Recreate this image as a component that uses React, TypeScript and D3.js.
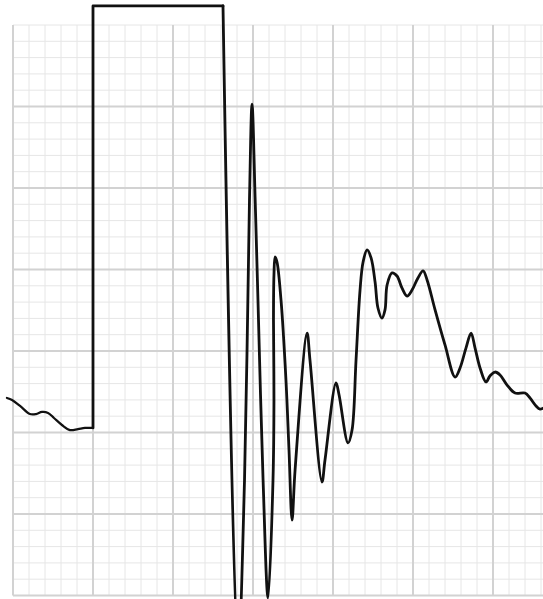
import React, { useRef, useEffect } from "react";
import * as d3 from "d3";

// Trace values, x in small squares (mm), y in mm above reference line
const baseline: [number, number][] = [
  [-0.38, 2.12], [-0.06, 1.99], [0.44, 1.63], [1.06, 1.13], [1.44, 1.13],
  [1.81, 1.26], [2.19, 1.2], [2.56, 0.89], [3.06, 0.46], [3.56, 0.15],
  [4.06, 0.21], [4.5, 0.28], [5.0, 0.28],
];

// calibration pulse
const pulse: [number, number][] = [
  [5.0, 0.28], [5.0, 26.17], [13.125, 26.17],
];

const response: [number, number][] = [
  [13.125, 26.17], [14.06, -13.65], [14.47, -2.91], [14.78, 14.26],
  [14.94, 20.15], [15.13, 14.45], [15.31, 8.13], [15.63, -2.91],
  [15.94, -10.15], [16.25, -2.91], [16.31, 1.99], [16.28, 6.9],
  [16.31, 9.66], [16.38, 10.77], [16.5, 10.46], [16.75, 8.13],
  [17.06, 3.22], [17.25, -1.07], [17.44, -5.37], [17.63, -2.3],
  [18.38, 6.1], [18.56, 4.45], [19.31, -3.04], [19.5, -1.69],
  [20.19, 3.04], [20.38, 2.3], [20.94, -0.64], [21.19, 0.15],
  [21.44, 4.45], [21.69, 8.74], [21.88, 10.46], [22.13, 11.2],
  [22.38, 10.71], [22.63, 9.23], [22.81, 7.64], [23.06, 7.02],
  [23.25, 7.52], [23.38, 9.05], [23.69, 9.79], [24.0, 9.6],
  [24.31, 8.87], [24.63, 8.37], [24.94, 8.74], [25.31, 9.48],
  [25.63, 9.91], [25.88, 9.36], [26.38, 7.52], [27.0, 5.37],
  [27.63, 3.4], [27.94, 3.96], [28.31, 5.18], [28.63, 6.1],
  [28.88, 5.18], [29.19, 3.96], [29.56, 3.1], [29.81, 3.47],
  [30.13, 3.71], [30.44, 3.53], [30.88, 2.91], [31.38, 2.42],
  [32.0, 2.42], [32.31, 2.12], [32.69, 1.63], [32.94, 1.44],
  [33.25, 1.56],
];

// grid extent in mm
const gridX: [number, number] = [0, 33.125];
const gridY: [number, number] = [-10, 25];

const EcgChart = ({ width = 543, height = 599 }) => {
  const d3Container = useRef<SVGSVGElement>(null);

  useEffect(() => {
    const container = d3Container.current;
    if (!container) return;
    d3.select(container).selectChildren().remove();

    const svg = d3.select(container);

    const x = d3.scaleLinear().domain(gridX).range([13, 543]);
    const y = d3.scaleLinear().domain(gridY).range([595.5, 25]);

    svg
      .append("rect")
      .attr("width", width)
      .attr("height", height)
      .attr("fill", "white");

    // Grid
    const grid = svg.append("g");
    const vx = d3.range(gridX[0], gridX[1] + 0.01, 1);
    const hy = d3.range(gridY[0], gridY[1] + 0.01, 1);

    const minorV = vx.filter((d) => d % 5 !== 0);
    const majorV = vx.filter((d) => d % 5 === 0);
    const minorH = hy.filter((d) => d % 5 !== 0 || d === gridY[1]);
    const majorH = hy.filter((d) => d % 5 === 0 && d !== gridY[1]);

    grid
      .selectAll("line.minv")
      .data(minorV)
      .enter()
      .append("line")
      .attr("x1", (d) => x(d))
      .attr("x2", (d) => x(d))
      .attr("y1", y(gridY[1]))
      .attr("y2", y(gridY[0]))
      .attr("stroke", "#e6e6e6")
      .attr("stroke-width", 1);

    grid
      .selectAll("line.minh")
      .data(minorH)
      .enter()
      .append("line")
      .attr("x1", x(gridX[0]))
      .attr("x2", width)
      .attr("y1", (d) => y(d))
      .attr("y2", (d) => y(d))
      .attr("stroke", "#e6e6e6")
      .attr("stroke-width", 1);

    grid
      .selectAll("line.majv")
      .data(majorV)
      .enter()
      .append("line")
      .attr("x1", (d) => x(d))
      .attr("x2", (d) => x(d))
      .attr("y1", y(gridY[1]))
      .attr("y2", y(gridY[0]))
      .attr("stroke", "#d2d2d2")
      .attr("stroke-width", 2);

    grid
      .selectAll("line.majh")
      .data(majorH)
      .enter()
      .append("line")
      .attr("x1", x(gridX[0]))
      .attr("x2", width)
      .attr("y1", (d) => y(d))
      .attr("y2", (d) => y(d))
      .attr("stroke", "#d2d2d2")
      .attr("stroke-width", 2);

    // Trace
    const smooth = d3
      .line<[number, number]>()
      .x((d) => x(d[0]))
      .y((d) => y(d[1]))
      .curve(d3.curveCatmullRom.alpha(0.5));
    const straight = d3
      .line<[number, number]>()
      .x((d) => x(d[0]))
      .y((d) => y(d[1]));

    const trace = svg
      .append("g")
      .attr("fill", "none")
      .attr("stroke", "#111")
      .attr("stroke-linejoin", "round")
      .attr("stroke-linecap", "round");

    trace.append("path").attr("d", smooth(baseline)).attr("stroke-width", 2.2);
    trace.append("path").attr("d", straight(pulse)).attr("stroke-width", 2.8);
    trace.append("path").attr("d", smooth(response)).attr("stroke-width", 2.8);
  }, [width, height]);

  return (
    <svg
      width={width}
      height={height}
      ref={d3Container}
      style={{ position: "absolute", left: 0, top: 0 }}
    />
  );
};

export default function App() {
  return <EcgChart />;
}
